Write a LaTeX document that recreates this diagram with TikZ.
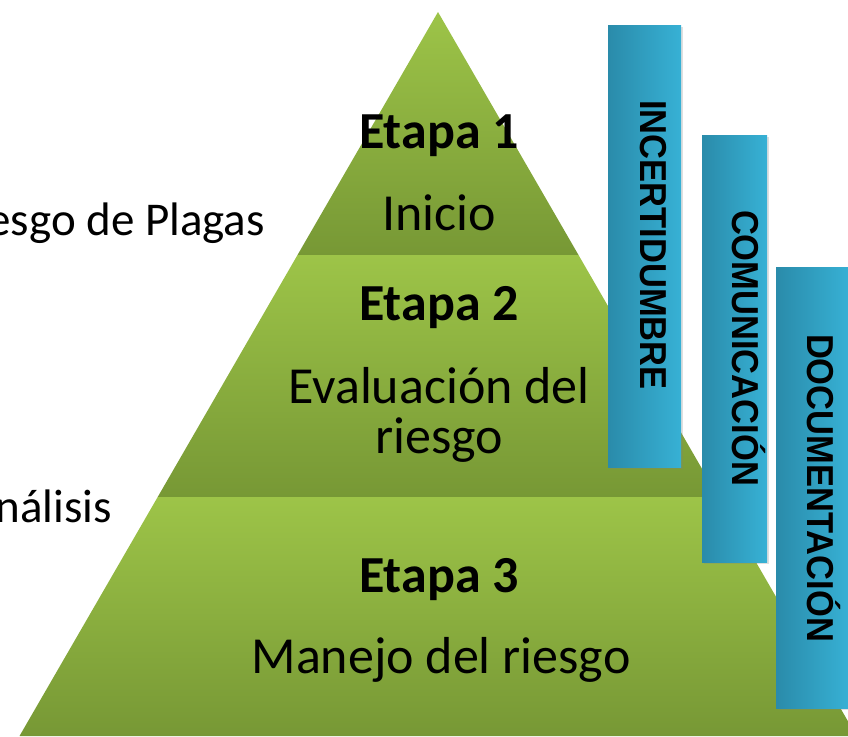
\documentclass[tikz,border=0pt]{standalone}
\usepackage{fontspec}
\setmainfont{Carlito}
\newfontfamily\barfont[FakeStretch=0.92]{Liberation Sans}
\usetikzlibrary{shadows}
\definecolor{gtop}{HTML}{9DC448}
\definecolor{gbot}{HTML}{779835}
\definecolor{bleft}{HTML}{2A8BAA}
\definecolor{bright}{HTML}{37B1D5}
\begin{document}
\begin{tikzpicture}[x=1pt,y=-1pt,
 layer/.style={top color=gtop,bottom color=gbot,draw=none},
 bar/.style={left color=bleft,right color=bright,draw=none,
   drop shadow={opacity=0.25,shadow xshift=2pt,shadow yshift=-2pt}},
 title/.style={font=\fontsize{52}{52}\selectfont\bfseries, inner sep=0pt, anchor=base},
 sub/.style={font=\fontsize{52}{52}\selectfont, inner sep=0pt, anchor=base},
 side/.style={font=\fontsize{47}{47}\selectfont, inner sep=0pt, anchor=base east},
 bartext/.style={font=\barfont\bfseries\fontsize{37.5}{37.5}\selectfont, rotate=-90,
   inner sep=0pt, text height=0.72em, text depth=0pt}]
\useasboundingbox (0,0) rectangle (848,736);
\clip (0,0) rectangle (848,736);
% side texts (cut by the border)
\node[side] (pl) at (265,235) {esgo de Plagas};
\node[side] (an) at (112,522) {nálisis};
% pyramid
\shade[layer] (438,12) -- (578.5,255) -- (297.5,255) -- cycle;
\shade[layer] (297.5,255) -- (578.5,255) -- (718.3,497) -- (157.7,497) -- cycle;
\shade[layer] (157.7,497) -- (718.3,497) -- (856.5,736) -- (19.5,736) -- cycle;
\node[title] (e1) at (439,148) {Etapa 1};
\node[sub] (i1) at (439,230) {Inicio};
\node[title] (e2) at (439,320) {Etapa 2};
\node[sub] (ev) at (439,403) {Evaluación del};
\node[sub] (ri) at (439,453) {riesgo};
\node[title] (e3) at (439,592) {Etapa 3};
\node[sub] (mr) at (441,673) {Manejo del riesgo};
% bars
\shade[bar] (608,25) rectangle (681,467);
\node[bartext] (t1) at (644.5,245) {INCERTIDUMBRE};
\shade[bar] (702,135) rectangle (767,562);
\node[bartext] (t2) at (736,348) {COMUNICACIÓN};
\shade[bar] (776,267) rectangle (850,708);
\node[bartext] (t3) at (811,488) {DOCUMENTACIÓN};
\end{tikzpicture}
\end{document}
